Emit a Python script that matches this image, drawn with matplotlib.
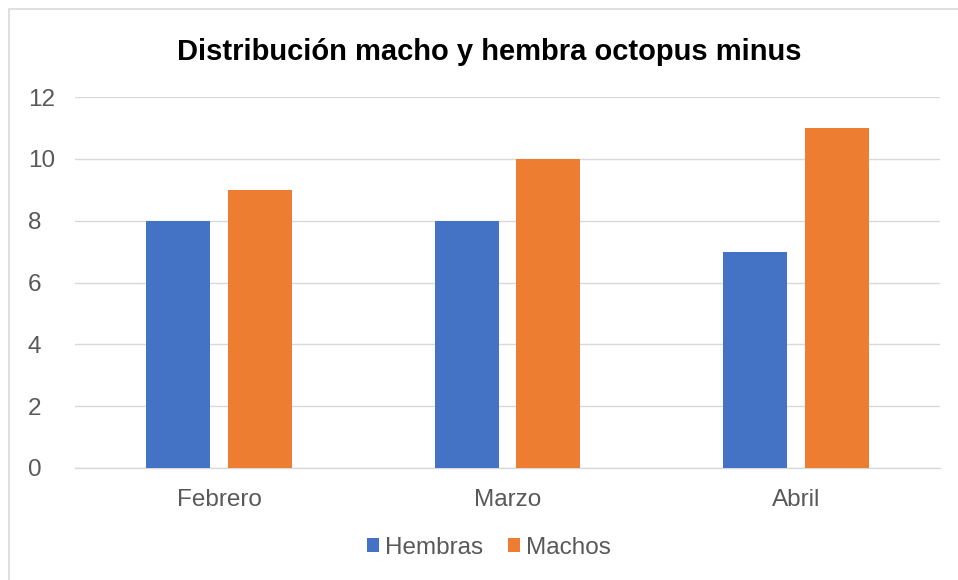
import numpy as np
import matplotlib.pyplot as plt
from matplotlib.patches import Rectangle

plt.rcParams['font.family'] = ['Liberation Sans', 'DejaVu Sans']

meses = ['Febrero', 'Marzo', 'Abril']
hembras = [8, 8, 7]
machos = [9, 10, 11]

fig = plt.figure(figsize=(9.58, 5.8), dpi=100)
# marco del grafico (recortado a la derecha y abajo)
fig.patches.append(Rectangle((9 / 958, -0.05), 1.05, 1 - 9 / 580 + 0.05,
                             transform=fig.transFigure, fill=False,
                             edgecolor='#D9D9D9', linewidth=1.2))

ax = fig.add_axes([75 / 958, 1 - 468 / 580, 865 / 958, (468 - 97) / 580])

x = np.arange(len(meses))
w = 0.222
ax.bar(x - 0.142, hembras, w, color='#4472C4', label='Hembras', zorder=3)
ax.bar(x + 0.142, machos, w, color='#ED7D31', label='Machos', zorder=3)

ax.set_xlim(-0.5, 2.5)
ax.set_ylim(0, 12)
ax.set_yticks(range(0, 13, 2))
ax.set_xticks(x)
ax.set_xticklabels(meses)
ax.yaxis.grid(True, color='#D9D9D9', linewidth=1, zorder=0)
for s in ['top', 'right', 'left']:
    ax.spines[s].set_visible(False)
ax.spines['bottom'].set_color('#D9D9D9')
ax.spines['bottom'].set_linewidth(1)
ax.tick_params(axis='both', length=0, labelsize=17.5, colors='#595959')
ax.tick_params(axis='x', pad=15)
ax.tick_params(axis='y', pad=34)
for lbl in ax.get_yticklabels():
    lbl.set_horizontalalignment('left')

fig.text(489 / 958, 1 - 52 / 580, 'Distribución macho y hembra octopus minus',
         ha='center', va='center', fontsize=21, fontweight='bold', color='black')

fig.legend(loc='center', bbox_to_anchor=(489 / 958, 1 - 548 / 580), ncol=2,
           frameon=False, fontsize=17.5, handlelength=0.5, handleheight=0.5,
           handletextpad=0.25, columnspacing=1.0, labelcolor='#595959')

fig.savefig('out.png', dpi=100)
